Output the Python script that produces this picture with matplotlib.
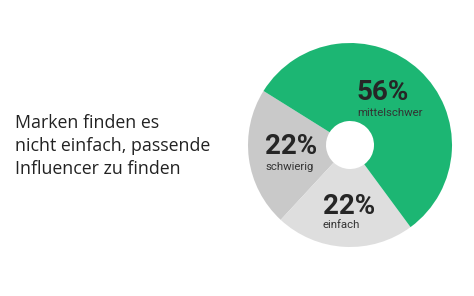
import matplotlib
matplotlib.use('Agg')
import matplotlib.pyplot as plt

# data
labels = ['schwierig', 'einfach', 'mittelschwer']
values = [22, 22, 56]
colors = ['#c9c9c9', '#dedede', '#1cb673']
title_lines = ['Marken finden es', 'nicht einfach, passende', 'Influencer zu finden']

W, H = 474, 296
fig = plt.figure(figsize=(W / 100, H / 100), dpi=100)
ax = fig.add_axes([0, 0, 1, 1])

cx, cy, r = 350, H - 145, 102
ax.pie(values, colors=colors, startangle=148, counterclock=True,
       center=(cx, cy), radius=r, frame=False,
       wedgeprops=dict(width=r - 24, linewidth=0))
ax.set_xlim(0, W)
ax.set_ylim(0, H)
ax.set_aspect('equal')
ax.axis('off')

# label positions (pixels from top-left)
pos = {'schwierig': (265, 146, 167), 'einfach': (323, 206, 225), 'mittelschwer': (357, 93, 113)}
for lab, v in zip(labels, values):
    x, y1, y2 = pos[lab]
    ax.text(x, H - y1, f'{v}%', fontsize=20, fontweight='bold', family='Roboto',
            color='#262626', ha='left', va='center')
    ax.text(x, H - y2, lab, fontsize=8.2, family='Roboto', color='#333333',
            ha='left', va='center')

for i, line in enumerate(title_lines):
    ax.text(15, H - (123 + 23 * i), line, fontsize=12.8, family='Open Sans',
            color='#222222', ha='left', va='center')

fig.savefig('out.png', dpi=100)
